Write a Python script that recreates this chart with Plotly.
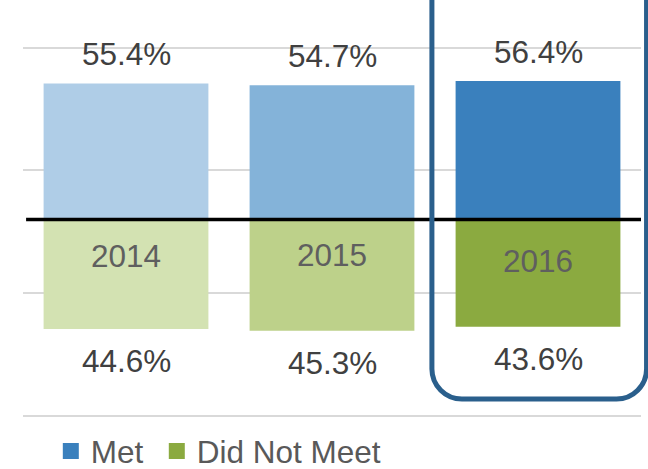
import plotly.graph_objects as go

years = ["2014", "2015", "2016"]
met = [55.4, 54.7, 56.4]
did_not_meet = [44.6, 45.3, 43.6]

met_colors = ["#AFCDE7", "#84B3D9", "#3A80BD"]
dnm_colors = ["#D3E2B2", "#BDD18A", "#8BAA40"]
legend_met_color = "#3A80BD"
legend_dnm_color = "#8BAA40"
highlight_index = 2
year_label_shift = [-36, -35, -41]

FONT = "Liberation Sans, Arial, sans-serif"
FS = 31.5
W, H = 648, 469
ML, MR, MT, MB = 23, 7, 0, 51
YMIN, YMAX = -80.8, 89.4

fig = go.Figure()
fig.add_trace(go.Bar(x=years, y=met, marker=dict(color=met_colors, line=dict(width=0)),
                     showlegend=False, hoverinfo="skip"))
fig.add_trace(go.Bar(x=years, y=[-v for v in did_not_meet],
                     marker=dict(color=dnm_colors, line=dict(width=0)),
                     showlegend=False, hoverinfo="skip"))
# legend entries
fig.add_trace(go.Scatter(x=[None], y=[None], mode="markers", name="Met", legend="legend",
                         marker=dict(symbol="square", size=16, color=legend_met_color)))
fig.add_trace(go.Scatter(x=[None], y=[None], mode="markers", name="Did Not Meet", legend="legend2",
                         marker=dict(symbol="square", size=16, color=legend_dnm_color)))

ann = []
for i, y in enumerate(years):
    ann.append(dict(x=i, y=met[i], xref="x", yref="y", text=f"{met[i]:.1f}%",
                    showarrow=False, yanchor="middle", yshift=29.5,
                    font=dict(family=FONT, size=FS, color="#404040")))
    ann.append(dict(x=i, y=-did_not_meet[i], xref="x", yref="y", text=f"{did_not_meet[i]:.1f}%",
                    showarrow=False, yanchor="middle", yshift=-32,
                    font=dict(family=FONT, size=FS, color="#404040")))
    ann.append(dict(x=i, y=0, xref="x", yref="y", text=y,
                    showarrow=False, yanchor="middle", yshift=year_label_shift[i],
                    font=dict(family=FONT, size=FS, color="#5F5F5F")))

# highlight rounded box around the highlighted category (paper coords)
pw = W - ML - MR
ph = H - MT - MB
n = len(years)
cx = (highlight_index + 0.5) / n
half = 0.515 / n
x0p, x1p = cx - half, cx + half + 0.004
ybot = (ph - 399 + MT) / ph
ytop = 1.05
rx = 30 / pw
ry = 30 / ph
k = 0.45
path = (f"M {x0p},{ytop} L {x0p},{ybot + ry} "
        f"C {x0p},{ybot + ry * k} {x0p + rx * k},{ybot} {x0p + rx},{ybot} "
        f"L {x1p - rx},{ybot} "
        f"C {x1p - rx * k},{ybot} {x1p},{ybot + ry * k} {x1p},{ybot + ry} "
        f"L {x1p},{ytop}")

shapes = [
    dict(type="line", xref="paper", yref="y", x0=0.005, x1=1.0, y0=0, y1=0,
         line=dict(color="black", width=3.5), layer="above"),
    dict(type="path", xref="paper", yref="paper", path=path,
         line=dict(color="#2A5F8C", width=5), fillcolor="rgba(0,0,0,0)", layer="above"),
]

legend_y = -(451 - (H - MB)) / ph
legend_common = dict(orientation="h", xanchor="left", y=legend_y, yanchor="middle",
                     font=dict(family=FONT, size=FS, color="#595959"),
                     itemsizing="trace", bgcolor="rgba(0,0,0,0)")

fig.update_layout(
    width=W, height=H,
    margin=dict(l=ML, r=MR, t=MT, b=MB, autoexpand=False),
    paper_bgcolor="white", plot_bgcolor="white",
    barmode="relative", bargap=0.2,
    xaxis=dict(type="category", showticklabels=False, showgrid=False, zeroline=False,
               showline=False, range=[-0.5, 2.5], fixedrange=True),
    yaxis=dict(range=[YMIN, YMAX], tickvals=[-80, -30, 20, 70], showticklabels=False,
               showgrid=True, gridcolor="#D9D9D9", gridwidth=2, zeroline=False,
               showline=False, fixedrange=True),
    legend=dict(x=0.045, **legend_common),
    legend2=dict(x=0.2165, **legend_common),
    annotations=ann,
    shapes=shapes,
    showlegend=True,
)

fig.write_html("out.html", config={"displayModeBar": False},
               post_script="document.body.style.margin='0px';document.body.style.overflow='hidden';")
